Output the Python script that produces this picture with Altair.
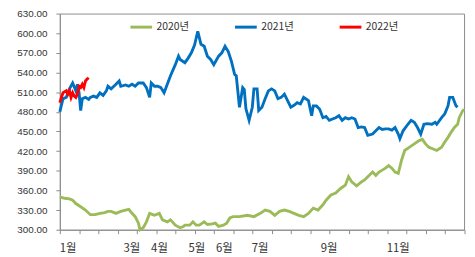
import json
import altair as alt
import pandas as pd

# ---- data ----
days_2020 = [0, 3, 6, 8, 10, 13, 16, 19, 22, 25, 28, 30, 32, 35, 38, 41, 43, 45, 47, 49,
             50, 52, 54, 56, 59, 62, 64, 67, 69, 72, 75, 77, 78, 81, 83, 85, 87, 90, 92, 95,
             97, 99, 102, 104, 106, 108, 112, 117, 121, 125, 128, 131, 134, 137, 140, 143, 146, 149, 152, 155,
             158, 161, 164, 166, 169, 172, 175, 178, 180, 182, 185, 188, 190, 192, 195, 197, 199, 201, 203, 205,
             207, 209, 211, 213, 215, 218, 221, 224, 226, 228, 230, 232, 235, 238, 240, 242, 244, 246, 248, 249,
             251, 252]
vals_2020 = [350, 348, 347, 345, 340, 335, 330, 323, 323, 325, 326, 328, 328, 325, 328, 330, 331, 325, 320, 310,
             300, 303, 312, 325, 322, 325, 315, 312, 315, 307, 303, 305, 307, 307, 312, 307, 307, 312, 308, 309,
             310, 305, 307, 310, 318, 320, 320, 322, 320, 325, 330, 328, 322, 328, 330, 328, 325, 322, 320, 325,
             333, 330, 338, 345, 353, 356, 363, 368, 381, 373, 367, 373, 376, 381, 388, 383, 388, 391, 394, 398,
             394, 388, 386, 406, 421, 426, 431, 436, 438, 431, 426, 424, 421, 426, 434, 441, 449, 456, 461, 471,
             481, 484]

days_2021 = [0, 2, 4, 6, 8, 10, 11, 12, 13, 14, 16, 18, 19, 21, 23, 25, 27, 29, 30, 32,
             35, 37, 38, 41, 43, 45, 47, 49, 52, 54, 56, 57, 59, 61, 63, 65, 67, 69, 72, 74,
             75, 78, 80, 82, 84, 86, 88, 90, 92, 94, 96, 99, 101, 103, 105, 107, 109, 110, 112, 114,
             115, 116, 118, 120, 121, 123, 124, 126, 128, 130, 132, 134, 136, 138, 140, 142, 144, 146, 148, 150,
             152, 155, 157, 158, 160, 162, 164, 166, 168, 170, 172, 174, 176, 178, 180, 182, 184, 186, 188, 190,
             192, 195, 197, 199, 201, 203, 205, 207, 209, 211, 212, 214, 217, 219, 221, 223, 225, 227, 229, 232,
             234, 235, 238, 240, 242, 243, 245, 247, 248]
vals_2021 = [480, 500, 502, 515, 524, 512, 522, 509, 482, 500, 502, 499, 502, 504, 502, 509, 505, 512, 519, 515,
             522, 527, 519, 521, 519, 522, 519, 524, 524, 517, 502, 524, 519, 519, 517, 509, 522, 535, 552, 565,
             560, 555, 562, 570, 582, 603, 583, 580, 565, 560, 552, 565, 570, 580, 572, 557, 537, 535, 487, 517,
             514, 485, 467, 487, 515, 515, 482, 487, 500, 512, 515, 512, 500, 502, 507, 497, 487, 490, 494, 492,
             502, 497, 474, 489, 489, 484, 471, 473, 467, 469, 471, 474, 467, 471, 469, 471, 469, 456, 457, 456,
             444, 446, 451, 456, 453, 454, 454, 452, 456, 446, 439, 451, 461, 467, 464, 456, 446, 461, 462, 461,
             464, 461, 471, 477, 489, 502, 502, 489, 487]

days_2022 = [0, 1, 2, 4, 5, 6, 7, 8, 9, 10, 11, 12, 13, 14, 15, 16, 17, 18]
vals_2022 = [494, 502, 509, 512, 507, 512, 502, 509, 504, 502, 507, 519, 517, 522, 517, 527, 530, 532]

series_names = ["2020년", "2021년", "2022년"]
series_colors = ["#9BBB59", "#0070C0", "#FF0000"]

tick_days = list(range(0, 253, 12))
month_days = [4.8, 44.6, 61.8, 85.1, 102.3, 124.5, 167.6, 210.7]
month_labels = ["1월", "3월", "4월", "5월", "6월", "7월", "9월", "11월"]
y_ticks = list(range(300, 631, 30))

rows = []
for name, ds, vs in [(series_names[0], days_2020, vals_2020),
                     (series_names[1], days_2021, vals_2021),
                     (series_names[2], days_2022, vals_2022)]:
    for d, v in zip(ds, vs):
        rows.append({"day": d, "value": v, "series": name})
df = pd.DataFrame(rows)

md = json.dumps(month_days)
ml = json.dumps(month_labels, ensure_ascii=False)
label_expr = f"indexof({md}, datum.value) >= 0 ? {ml}[indexof({md}, datum.value)] : ''"

axis_color = "#8C8C8C"

chart = alt.Chart(df).mark_line(strokeWidth=2.9).encode(
    x=alt.X("day:Q",
            scale=alt.Scale(domain=[0, 252], nice=False, zero=False),
            axis=alt.Axis(values=sorted(tick_days + month_days), labelExpr=label_expr,
                          title=None, grid=False, labelOverlap=False, labelFlush=False,
                          tickSize=4, labelPadding=9, domainColor=axis_color,
                          tickColor=axis_color,
                          tickOpacity={"condition": {"test": "datum.value % 12 === 0", "value": 1},
                                       "value": 0},
                          labelFont="Noto Sans CJK KR", labelFontSize=11.5, labelColor="#333333")),
    y=alt.Y("value:Q",
            scale=alt.Scale(domain=[300, 630], nice=False, zero=False),
            axis=alt.Axis(values=y_ticks, format=".2f", title=None, grid=False,
                          tickSize=4, labelPadding=9, domainColor=axis_color, tickColor=axis_color,
                          labelFont="Liberation Sans", labelFontSize=10, labelColor="#333333")),
    color=alt.Color("series:N",
                    scale=alt.Scale(domain=series_names, range=series_colors),
                    legend=alt.Legend(orient="none", legendX=70, legendY=1, direction="horizontal",
                                      title=None, symbolType="stroke", symbolStrokeWidth=3,
                                      symbolSize=484, labelFont="Noto Sans CJK KR",
                                      labelFontSize=10.5, labelColor="#333333",
                                      columnPadding=40, labelOffset=3)),
).properties(
    width=409.5,
    height=219,
    autosize=alt.AutoSizeParams(type="none"),
    padding={"left": 52.5, "top": 4, "right": 3, "bottom": 26},
).configure_view(
    stroke=axis_color, strokeWidth=1
)

chart.save("out.html", embed_options={"renderer": "svg", "actions": False})
